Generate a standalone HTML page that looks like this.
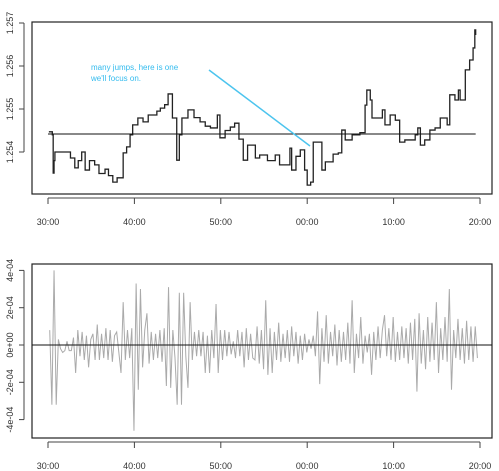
<!DOCTYPE html>
<html><head><meta charset="utf-8"><style>
body{margin:0;background:#fff;}
svg{display:block;font-family:"Liberation Sans",sans-serif;}
</style></head><body>
<svg id="c" width="499" height="471"></svg>
<script>
const xTickLabels=["30:00","40:00","50:00","00:00","10:00","20:00"];
const xTickMinutes=[0,10,20,30,40,50];
const priceTickLabels=["1.254","1.255","1.256","1.257"];
const priceTicks=[1.254,1.255,1.256,1.257];
const retTickLabels=["-4e-04","-2e-04","0e+00","2e-04","4e-04"];
const retTicks=[-4e-4,-2e-4,0,2e-4,4e-4];
const priceMinutes=[0.1,0.5,0.6,0.7,0.8,1.5,2.2,2.6,3.1,3.5,3.9,4.3,4.8,5.4,5.9,6.6,7.0,7.5,8.0,8.7,9.1,9.5,9.8,10.4,11.0,11.6,12.2,12.6,13.0,13.5,13.9,14.4,14.9,15.2,15.5,16.2,16.9,17.6,18.2,18.8,19.6,19.9,20.5,21.1,21.6,22.1,22.6,23.1,23.4,24.0,24.5,25.4,26.3,26.8,27.4,28.0,28.2,28.7,29.2,29.7,30.0,30.4,30.7,31.5,31.7,32.1,33.0,33.6,34.0,34.4,35.2,36.1,36.7,36.9,37.3,37.5,38.2,38.7,39.0,39.6,40.2,40.7,41.3,41.9,42.5,42.8,43.1,43.6,44.2,44.8,45.4,46.2,46.5,47.1,47.5,47.7,48.3,48.8,49.2,49.4,49.5];
const priceValues=[1.25447,1.25440,1.25351,1.25380,1.25400,1.25400,1.25400,1.25386,1.25363,1.25380,1.25400,1.25358,1.25380,1.25370,1.25350,1.25360,1.25345,1.25330,1.25340,1.25398,1.25412,1.25440,1.25463,1.25479,1.25470,1.25486,1.25486,1.25495,1.25502,1.25510,1.25535,1.25479,1.25381,1.25440,1.25479,1.25498,1.25480,1.25470,1.25460,1.25456,1.25486,1.25433,1.25450,1.25458,1.25467,1.25430,1.25381,1.25416,1.25416,1.25386,1.25393,1.25380,1.25393,1.25370,1.25370,1.25409,1.25358,1.25390,1.25405,1.25358,1.25323,1.25330,1.25423,1.25423,1.25358,1.25377,1.25395,1.25398,1.25451,1.25428,1.25440,1.25445,1.25509,1.25544,1.25521,1.25479,1.25479,1.25498,1.25463,1.25486,1.25474,1.25423,1.25428,1.25428,1.25440,1.25456,1.25416,1.25428,1.25451,1.25456,1.25479,1.25463,1.25533,1.25521,1.25544,1.25521,1.25591,1.25614,1.25642,1.25684,1.25672];
const priceMean=1.25442;
const returnStartMinute=0.2;
const returnStepMinutes=0.25;
const returnValues=[
0.8,-3.2,4.0,-3.2,0.3,-0.2,-0.4,-0.3,0.2,-0.3,
-0.3,0.4,-1.5,0.8,-0.6,0.7,-0.8,0.5,-1.2,0.3,
0.6,-0.8,1.1,-0.8,0.6,-0.7,0.9,-0.8,0.8,-0.9,
0.5,0.7,-0.4,-1.5,2.3,-0.8,0.8,-0.7,0.9,-4.6,
3.3,-2.4,3.0,-1.2,0.8,1.7,-1.0,0.7,-0.8,0.6,
-0.7,0.8,-0.9,0.9,-2.2,3.1,-2.3,0.8,-0.7,-3.2,
2.8,-3.2,2.8,-0.6,-2.3,2.3,-0.8,0.7,-0.6,0.8,
-0.6,0.7,-1.5,0.5,-1.5,0.8,-0.7,2.2,-1.5,0.8,
-0.8,0.8,-0.6,0.7,-0.5,0.2,-0.7,0.8,-0.6,0.7,
-1.2,0.9,-0.8,0.6,-0.7,-0.8,1.0,-1.0,0.8,-1.3,
2.4,-1.6,0.9,-1.5,0.7,-0.8,1.2,-0.9,0.6,-0.7,
0.8,-0.9,1.0,-0.6,0.7,-1.0,0.5,-0.8,0.6,-0.4,
0.3,-0.2,0.5,-0.6,1.8,-2.1,0.9,-0.9,1.6,-1.0,
0.7,-0.6,1.1,-1.1,0.8,-0.9,0.7,-0.8,1.2,-1.0,
2.4,-1.5,0.6,-0.7,1.5,-1.0,0.5,-0.4,0.6,-1.6,
0.7,-0.8,1.0,-0.7,0.8,1.6,-0.6,0.9,-0.8,1.5,
-0.9,0.7,-0.8,1.0,-0.7,0.9,-1.0,1.2,-0.8,1.4,
-2.5,1.7,-1.0,0.8,-1.3,1.5,-0.9,1.2,-0.8,2.3,
-1.5,0.9,-0.8,1.5,-0.9,3.0,-2.4,0.8,-0.7,1.4,
-0.8,0.9,-1.0,1.3,-0.8,1.0,-0.9,1.0,-0.7];
const svg=document.getElementById('c');
const NS='http://www.w3.org/2000/svg';
function mk(tag,attrs,parent){const e=document.createElementNS(NS,tag);for(const k in attrs)e.setAttribute(k,attrs[k]);(parent||svg).appendChild(e);return e;}
const X0=48,PXM=8.64;
function xs(m){return X0+m*PXM;}
function yTop(p){return 152-(p-1.254)/0.001*43;}
function yBot(r){return 345-r/2e-4*37.3;}
function panel(top,bot,name,ticks,labels,yfn){
  const b=mk('rect',{x:32,y:top,width:460,height:bot-top,fill:'none',stroke:'#222','stroke-width':1.2});
  
  
  const ax=mk('g',{});
  
  
  mk('line',{x1:24,x2:24,y1:yfn(ticks[0]),y2:yfn(ticks[ticks.length-1]),stroke:'#444'},ax);
  ticks.forEach((t,i)=>{const y=yfn(t);
    mk('line',{x1:19,x2:24,y1:y,y2:y,stroke:'#444'},ax);
    const tx=mk('text',{x:0,y:0,transform:`translate(13,${y}) rotate(-90)`,'text-anchor':'middle','font-size':9,fill:'#333'},ax);
    tx.textContent=labels[i];
    
    
  });
  const xa=mk('g',{});
  
  
  const ya=bot+4;
  mk('line',{x1:xs(xTickMinutes[0]),x2:xs(xTickMinutes[5]),y1:ya,y2:ya,stroke:'#444'},xa);
  xTickMinutes.forEach((m,i)=>{const x=xs(m);
    mk('line',{x1:x,x2:x,y1:ya,y2:ya+6,stroke:'#444'},xa);
    const tx=mk('text',{x:x,y:bot+31,'text-anchor':'middle','font-size':9,fill:'#333'},xa);
    tx.textContent=xTickLabels[i];
    
    
  });
}
panel(22,194,'price-panel',priceTicks,priceTickLabels,yTop);
panel(264,438,'returns-panel',retTicks,retTickLabels,yBot);
let d='';
priceMinutes.forEach((m,i)=>{const x=xs(m),y=yTop(priceValues[i]);
  if(i===0)d+=`M${x},${y}`;else d+=`H${x}V${y}`;});
const pl=mk('path',{d:d,fill:'none',stroke:'#222','stroke-width':1.3});


const ml=mk('line',{x1:xs(0),x2:xs(49.5),y1:yTop(priceMean),y2:yTop(priceMean),stroke:'#111','stroke-width':1});


const an=mk('g',{});


mk('line',{x1:209,y1:70,x2:310,y2:146,stroke:'#4cc4ee','stroke-width':1.5},an);
const t1=mk('text',{x:91,y:70,'font-size':8,fill:'#33bbee'},an);t1.textContent='many jumps, here is one';
const t2=mk('text',{x:91,y:81,'font-size':8,fill:'#33bbee'},an);t2.textContent="we'll focus on.";
let rd='';
returnValues.forEach((r,i)=>{const x=xs(returnStartMinute+i*returnStepMinutes),y=yBot(r*1e-4);rd+=(i?'L':'M')+x+','+y;});
const rl=mk('path',{d:rd,fill:'none',stroke:'#aaa','stroke-width':1});


const zl=mk('line',{x1:32,x2:492,y1:yBot(0),y2:yBot(0),stroke:'#111','stroke-width':1});


</script>
</body></html>
